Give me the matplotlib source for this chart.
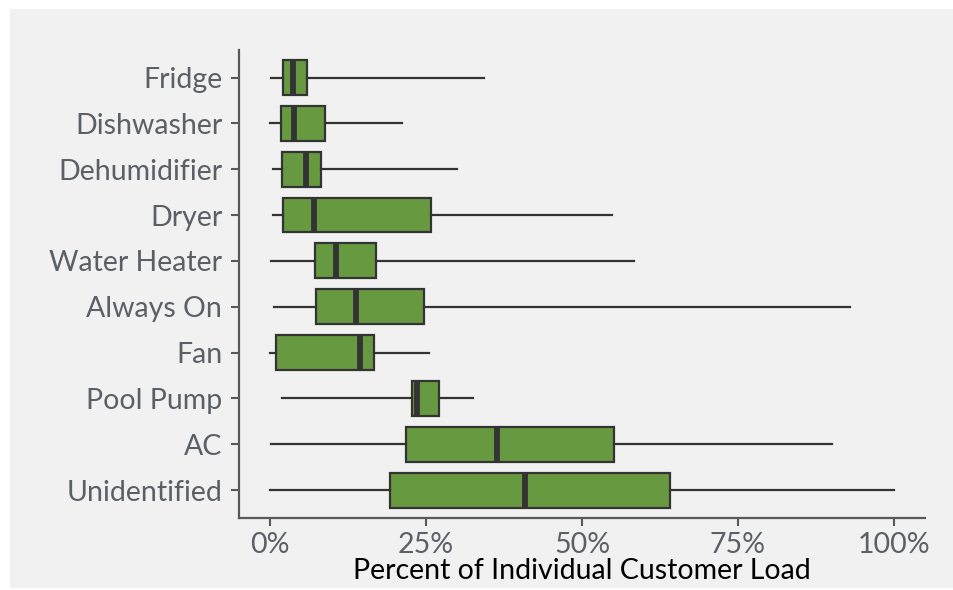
import matplotlib
matplotlib.use("Agg")
import matplotlib.pyplot as plt
from matplotlib.patches import Rectangle
from matplotlib.ticker import FuncFormatter

# Appliance share of individual customer load (percent)
categories = ["Fridge", "Dishwasher", "Dehumidifier", "Dryer", "Water Heater",
              "Always On", "Fan", "Pool Pump", "AC", "Unidentified"]
whisker_low = [0.2, 0.05, 0.4, 0.5, 0.2, 0.65, 0.05, 1.9, 0.15, 0.0]
q1 = [2.1, 1.8, 1.9, 2.0, 7.2, 7.3, 1.0, 22.8, 21.8, 19.2]
median = [3.7, 3.85, 5.7, 7.0, 10.5, 13.8, 14.4, 23.6, 36.4, 40.9]
q3 = [5.9, 8.8, 8.2, 25.8, 16.9, 24.7, 16.6, 27.1, 55.2, 64.1]
whisker_high = [34.3, 21.1, 29.9, 54.8, 58.3, 92.9, 25.4, 32.5, 90.1, 100.0]
x_ticks = [0, 25, 50, 75, 100]

W, H = 954, 590
fig = plt.figure(figsize=(W / 100, H / 100), dpi=100)
fig.patch.set_facecolor("white")
fig.add_artist(Rectangle((10 / W, 2 / H), (W - 10) / W, (581 - 2) / H,
                         transform=fig.transFigure, facecolor="#f1f1f1",
                         edgecolor="none", zorder=0))

ax = fig.add_axes([239 / W, (H - 517.7) / H, (925 - 239) / W, (517.7 - 50) / H])
ax.set_facecolor("none")

n = len(categories)
positions = list(range(n, 0, -1))
stats = []
for i, name in enumerate(categories):
    stats.append(dict(label=name, whislo=whisker_low[i], q1=q1[i], med=median[i],
                      q3=q3[i], whishi=whisker_high[i], fliers=[]))

edge = "#333333"
ax.bxp(stats, positions=positions, vert=False, widths=0.76, patch_artist=True,
       showcaps=False,
       boxprops=dict(facecolor="#679a40", edgecolor=edge, linewidth=1.6),
       medianprops=dict(color=edge, linewidth=4.2, solid_capstyle="butt"),
       whiskerprops=dict(color=edge, linewidth=1.6))

ax.set_xlim(-5, 105)
ax.set_ylim(0.4, n + 0.6)
ax.set_xticks(x_ticks)
ax.xaxis.set_major_formatter(FuncFormatter(lambda v, p: f"{v:.0f}%"))
ax.set_yticks(positions)
ax.set_yticklabels(categories)

font = "Lato"
tick_col = "#5b5f66"
for lab in ax.get_yticklabels() + ax.get_xticklabels():
    lab.set_fontfamily(font)
    lab.set_fontsize(20.5)
    lab.set_color(tick_col)
ax.tick_params(axis="both", length=6, width=1.5, color="#595959")
ax.tick_params(axis="y", pad=6)
ax.tick_params(axis="x", pad=4)

for s in ["top", "right"]:
    ax.spines[s].set_visible(False)
for s in ["left", "bottom"]:
    ax.spines[s].set_color("#595959")
    ax.spines[s].set_linewidth(1.6)

ax.set_xlabel("Percent of Individual Customer Load", fontfamily=font,
              fontsize=20.5, color="black", labelpad=0)

fig.savefig("out.png", dpi=100, facecolor=fig.get_facecolor())
